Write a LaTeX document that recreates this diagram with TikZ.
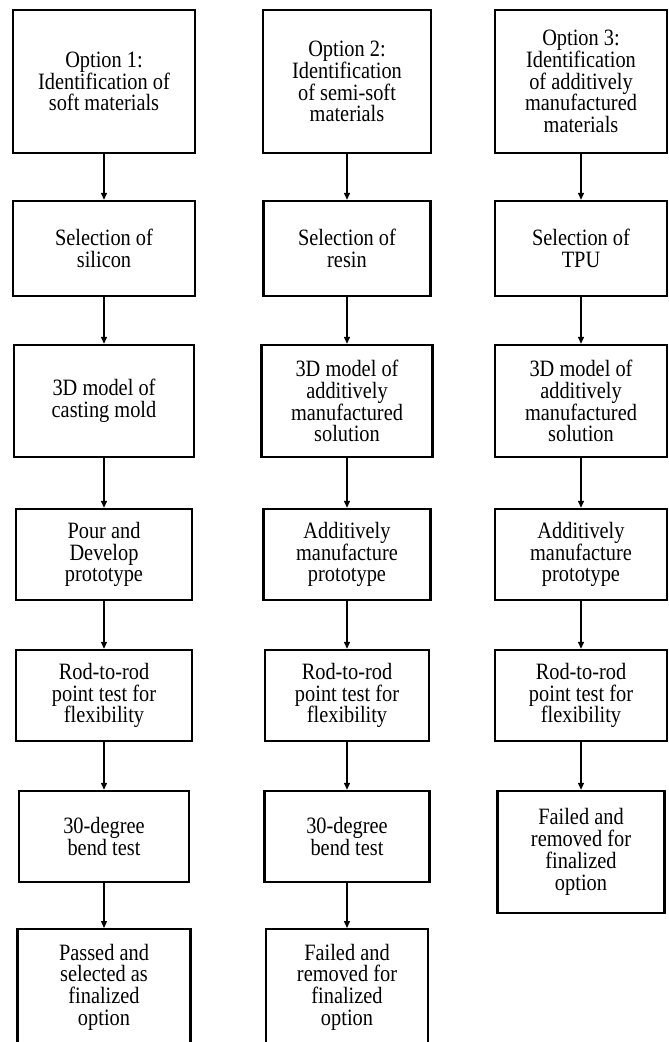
\documentclass[tikz,border=0pt]{standalone}
\usepackage{fontspec}
\setmainfont{Liberation Serif}[FakeStretch=0.87]
\usetikzlibrary{arrows.meta}
\begin{document}
\begin{tikzpicture}[x=1pt,y=-1pt,
  box/.style={draw, line width=2.4pt, align=center, inner sep=0pt,
    font=\fontsize{23.4}{21.8}\selectfont},
  arr/.style={-{Triangle[length=7pt,width=6pt]}, line width=1.3pt}]
\useasboundingbox (0,0) rectangle (669,1042);
\clip (0,0) rectangle (669,1042);
% column 1
\node[box, minimum width=182pt, minimum height=143pt] (a1) at (104,81.5) {Option 1:\\Identification of\\soft materials};
\node[box, minimum width=182pt, minimum height=95pt] (a2) at (104,248.5) {Selection of\\silicon};
\node[box, minimum width=180pt, minimum height=112pt] (a3) at (104,401) {3D model of\\casting mold};
\node[box, minimum width=176pt, minimum height=91pt] (a4) at (104,554.5) {Pour and\\Develop\\prototype};
\node[box, minimum width=176pt, minimum height=91pt] (a5) at (104,695.5) {Rod-to-rod\\point test for\\flexibility};
\node[box, minimum width=170pt, minimum height=91pt] (a6) at (104,836.5) {30-degree\\bend test};
\node[box, minimum width=173pt, minimum height=116pt] (a7) at (104,987.2) {Passed and\\selected as\\finalized\\option};
% column 2
\node[box, minimum width=168pt, minimum height=143pt] (b1) at (347,81.5) {Option 2:\\Identification\\of semi-soft\\materials};
\node[box, minimum width=167pt, minimum height=95pt] (b2) at (347,248.5) {Selection of\\resin};
\node[box, minimum width=171pt, minimum height=112pt] (b3) at (347,401) {3D model of\\additively\\manufactured\\solution};
\node[box, minimum width=167pt, minimum height=91pt] (b4) at (347,554.5) {Additively\\manufacture\\prototype};
\node[box, minimum width=164pt, minimum height=91pt] (b5) at (347,695.5) {Rod-to-rod\\point test for\\flexibility};
\node[box, minimum width=165pt, minimum height=91pt] (b6) at (347,836.5) {30-degree\\bend test};
\node[box, minimum width=162pt, minimum height=116pt] (b7) at (347,987.2) {Failed and\\removed for\\finalized\\option};
% column 3
\node[box, minimum width=172pt, minimum height=143pt] (c1) at (581,81.5) {Option 3:\\Identification\\of additively\\manufactured\\materials};
\node[box, minimum width=172pt, minimum height=95pt] (c2) at (581,248.5) {Selection of\\TPU};
\node[box, minimum width=172pt, minimum height=112pt] (c3) at (581,401) {3D model of\\additively\\manufactured\\solution};
\node[box, minimum width=172pt, minimum height=91pt] (c4) at (581,554.5) {Additively\\manufacture\\prototype};
\node[box, minimum width=172pt, minimum height=91pt] (c5) at (581,695.5) {Rod-to-rod\\point test for\\flexibility};
\node[box, minimum width=167pt, minimum height=122pt] (c6) at (581,852) {Failed and\\removed for\\finalized\\option};
% arrows
\foreach \p/\q in {a1/a2,a2/a3,a3/a4,a4/a5,a5/a6,a6/a7,
                   b1/b2,b2/b3,b3/b4,b4/b5,b5/b6,b6/b7,
                   c1/c2,c2/c3,c3/c4,c4/c5,c5/c6}
  \draw[arr] (\p) -- (\q);
\end{tikzpicture}
\end{document}
